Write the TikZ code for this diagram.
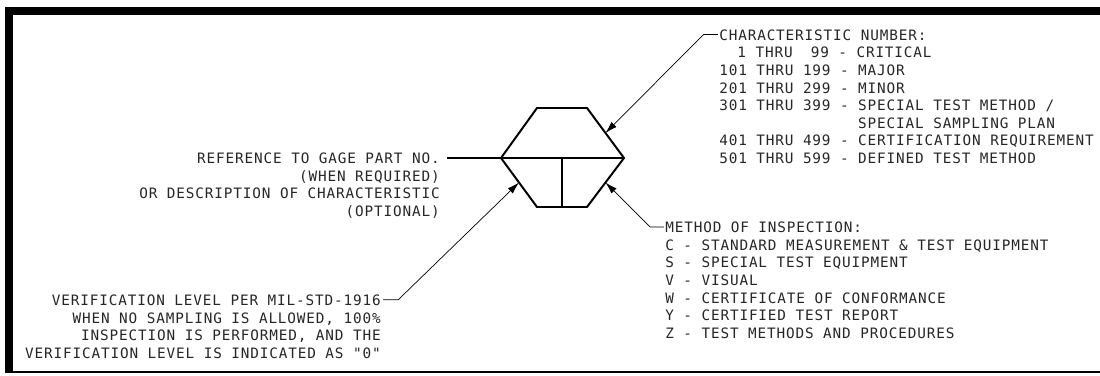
\documentclass[tikz,border=0pt]{standalone}
\usepackage{fontspec}
\newfontfamily\cadfont{DejaVu Sans Mono}[LetterSpace=6]
\usetikzlibrary{positioning, calc, arrows.meta}

\begin{document}
\begin{tikzpicture}[
      note/.style={inner sep=0pt, text=black!85, font=\cadfont\fontsize{10.2pt}{12.5pt}\selectfont},
      symbol/.style={line width=1.4pt, line join=miter},
      leader/.style={-{Latex[length=3mm,width=1.8mm]}, line width=0.5pt}
    ]
    \useasboundingbox (0,0) rectangle (27.5,9.375);

    % Sheet frame
    \fill (0.125,0.04) rectangle (0.325,9.2);
    \fill (0.125,9.0) rectangle (27.5,9.2);
    \fill (0.125,0.04) rectangle (27.5,0.09);

    % Characteristic symbol (hexagon)
    \coordinate (hL)  at (12.525,5.425);
    \coordinate (hT1) at (13.425,6.675);
    \coordinate (hT2) at (14.675,6.675);
    \coordinate (hR)  at (15.6,5.425);
    \coordinate (hB2) at (14.675,4.2);
    \coordinate (hB1) at (13.425,4.2);
    \coordinate (hC)  at (14.06,5.425);
    \draw[symbol] (hL) -- (hT1) -- (hT2) -- (hR) -- (hB2) -- (hB1) -- cycle;
    \draw[symbol] (hL) -- (hR);
    \draw[symbol] (hC) -- (hC |- hB1);

    % Edge midpoints for the leaders
    \coordinate (pNum)  at ($(hT2)!0.5!(hR)$);
    \coordinate (pMeth) at ($(hR)!0.5!(hB2)$);
    \coordinate (pVer)  at ($(hB1)!0.5!(hL)$);

    % Right notes
    \node[note, anchor=north west, align=left] (charnum) at (17.975,8.64) {CHARACTERISTIC NUMBER:\\
      \phantom{00}1 THRU \phantom{0}99 - CRITICAL\\
      101 THRU 199 - MAJOR\\
      201 THRU 299 - MINOR\\
      301 THRU 399 - SPECIAL TEST METHOD /\\
      \phantom{301 THRU 399 - }SPECIAL SAMPLING PLAN\\
      401 THRU 499 - CERTIFICATION REQUIREMENT\\
      501 THRU 599 - DEFINED TEST METHOD};
    \node[note, anchor=north west, align=left] (method) at (16.625,3.83) {METHOD OF INSPECTION:\\
      C - STANDARD MEASUREMENT \& TEST EQUIPMENT\\
      S - SPECIAL TEST EQUIPMENT\\
      V - VISUAL\\
      W - CERTIFICATE OF CONFORMANCE\\
      Y - CERTIFIED TEST REPORT\\
      Z - TEST METHODS AND PROCEDURES};

    % Left notes
    \node[note, anchor=north east, align=right] (gageref) at (11.0,5.555) {REFERENCE TO GAGE PART NO.\\
      (WHEN REQUIRED)\\
      OR DESCRIPTION OF CHARACTERISTIC\\
      (OPTIONAL)};
    \node[note, anchor=north east, align=right] (verif) at (9.525,2.01) {VERIFICATION LEVEL PER MIL-STD-1916\\
      WHEN NO SAMPLING IS ALLOWED, 100\%\\
      INSPECTION IS PERFORMED, AND THE\\
      VERIFICATION LEVEL IS INDICATED AS "0"};

    % Leaders
    \draw[leader] ($(charnum.north west)+(-0.03,-0.13)$) -- ++(-0.36,0) -- (pNum);
    \draw[leader] ($(method.north west)+(-0.03,-0.13)$) -- ++(-0.34,0) -- (pMeth);
    \draw[leader] ($(verif.north east)+(0.05,-0.13)$) -- ++(0.38,0) -- (pVer);
    \draw[symbol] ($(gageref.north east |- hL)+(0.17,0)$) -- (hL);

  \end{tikzpicture}
\end{document}
